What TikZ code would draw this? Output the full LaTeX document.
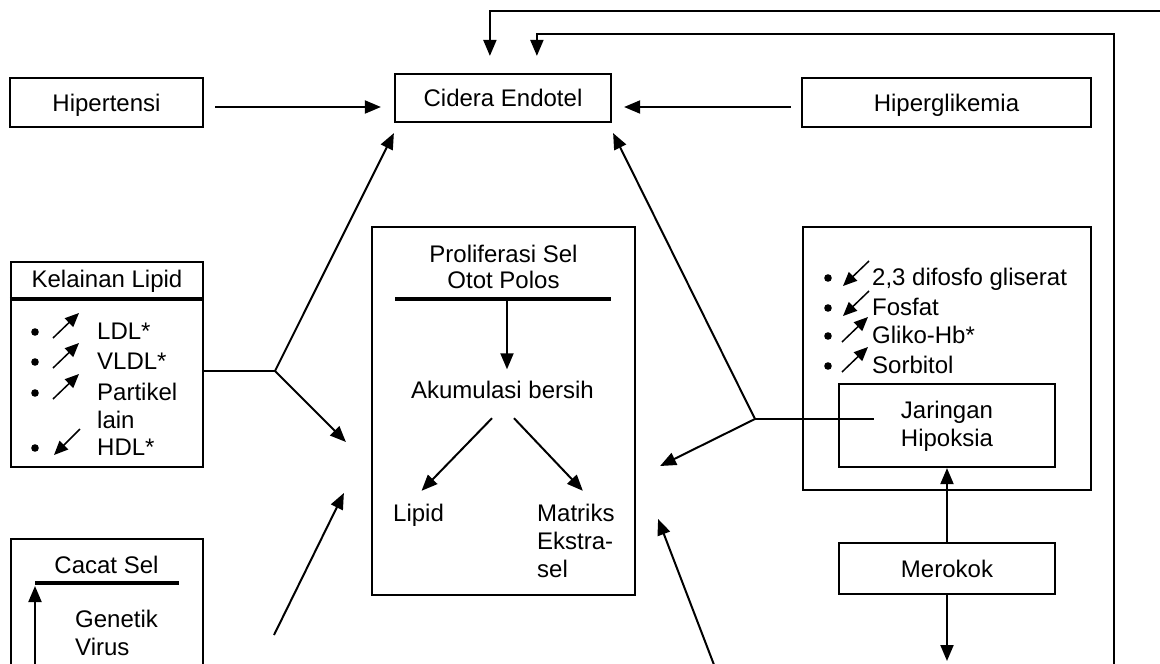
\documentclass[tikz,border=0pt]{standalone}
\usepackage{fontspec}
\setmainfont{Liberation Sans}
\usetikzlibrary{arrows.meta,calc}
\newcommand\fsz{\fontsize{24}{29}\selectfont}
\tikzset{
 box/.style={draw, line width=2.2pt, inner sep=0pt, align=center, font=\fsz, text height=17pt, text depth=0pt},
 txt/.style={inner sep=0pt, font=\fsz, text height=17pt, text depth=0pt},
 ln/.style={line width=2pt},
 arr/.style={line width=2pt, -{Triangle[length=16pt,width=13pt]}},
 hdr/.style={line width=4pt},
 sarr/.style={line width=1.5pt, -{Triangle[length=14pt,width=12pt]}},
}
\begin{document}
\begin{tikzpicture}[x=1pt,y=-1pt]
\useasboundingbox (0,0) rectangle (1160,664);
\clip (0,0) rectangle (1160,664);

% boxes
\node[box, minimum width=193pt, minimum height=49pt] (hip) at (106.5,102.5) {Hipertensi};
\node[box, minimum width=216pt, minimum height=48pt] (cid) at (503,98) {Cidera Endotel};
\node[box, minimum width=289pt, minimum height=49pt] (hgl) at (946.5,102.5) {Hiperglikemia};
\node[box, minimum width=192pt, minimum height=205pt] (lip) at (107,364.5) {};
\node[box, minimum width=263pt, minimum height=368pt] (pro) at (503.5,411) {};
\node[box, minimum width=288pt, minimum height=263pt] (rb) at (947,358.5) {};
\node[box, minimum width=216pt, minimum height=83pt] (jar) at (947,425.5) {};
\node[box, minimum width=216pt, minimum height=51pt] (mer) at (947,568.5) {Merokok};
\node[box, minimum width=192pt, minimum height=140pt] (cac) at (107,609) {};

% header rules
\draw[hdr] ($(lip.north west)+(0,38)$) -- ($(lip.north east)+(0,38)$);
\draw[hdr] (395,298.5) -- (611,298.5);
\draw[hdr] (35,583) -- (179,583);

% Kelainan Lipid
\node[txt] (liph) at (107,279) {Kelainan Lipid};
\node[txt,anchor=west] (li1) at (97,331) {LDL*};
\node[txt,anchor=west] (li2) at (97,361) {VLDL*};
\node[txt,anchor=west] (li3) at (97,392) {Partikel};
\node[txt,anchor=west] (li4) at (97,420) {lain};
\node[txt,anchor=west] (li5) at (97,447) {HDL*};
\foreach \c in {331,361,392,447} \fill ({35},{\c+1}) circle (3.8pt);
\foreach \c in {331,361,392} \draw[sarr] (53,{\c+7}) -- (79,{\c-18});
\draw[sarr] (80,429) -- (54,455);

% Proliferasi
\node[txt] (pro1) at (503.5,254) {Proliferasi Sel};
\node[txt] (pro2) at (503.5,280) {Otot Polos};
\coordinate (ph) at (507,298.5);
\node[txt] (akum) at (502.5,390) {Akumulasi bersih};
\node[txt,anchor=west] (lipd) at (393,512.5) {Lipid};
\node[txt,anchor=west] (mat1) at (537,512.5) {Matriks};
\node[txt,anchor=west] (mat2) at (537,541) {Ekstra-};
\node[txt,anchor=west] (mat3) at (537,569) {sel};
\draw[arr] (ph) -- ($(akum.north)+(4.5,-12)$);
\draw[arr] ($(akum.south)+(-10.5,19.5)$) -- ($(lipd.north)+(3,-13)$);
\draw[arr] ($(akum.south)+(11.5,19.5)$) -- ($(mat1.north)+(7,-13)$);

% right box
\node[txt,anchor=west] (r1) at (872,277) {2,3 difosfo gliserat};
\node[txt,anchor=west] (r2) at (872,307) {Fosfat};
\node[txt,anchor=west] (r3) at (872,335) {Gliko-Hb*};
\node[txt,anchor=west] (r4) at (872,365) {Sorbitol};
\foreach \c in {277,307,335,365} \fill ({828},{\c+1}) circle (3.8pt);
\foreach \c in {277,307} \draw[sarr] (869,{\c-16}) -- (843,{\c+9});
\foreach \c in {335,365} \draw[sarr] (842,{\c+7}) -- (868,{\c-18});
\node[txt] (jar1) at (947,410) {Jaringan};
\node[txt] (jar2) at (947,437.5) {Hipoksia};

% Cacat Sel
\node[txt] (cach) at (106.5,564.5) {Cacat Sel};
\node[txt,anchor=west] (gen) at (75,618.5) {Genetik};
\node[txt,anchor=west] (vir) at (75,646.5) {Virus};
\coordinate (c0) at (35,670);
\draw[arr] (c0) -- (35,586);

% connectors
\draw[arr] ($(hip.east)+(11,4.5)$) -- ($(cid.west)+(-13,9)$);
\draw[arr] ($(hgl.west)+(-10,4.5)$) -- ($(cid.east)+(12,9)$);
\coordinate (e1) at (1162,11);
\draw[arr] (e1) -| ($(cid.north west)+(96,-17)$);
\coordinate (e2) at (1114,670);
\draw[arr] (e2) -- (1114,34) -| ($(cid.north west)+(143,-17)$);

\coordinate (bl) at (275,371);
\draw[ln] ($(lip.east)+(0,6.5)$) -- (bl);
\draw[arr] (bl) -- ($(cid.south west)+(0,10)$);
\draw[arr] (bl) -- ($(pro.west)+(-25,31)$);

\coordinate (cb) at (274,635);
\draw[arr] (cb) -- ($(pro.west)+(-27,82)$);

\coordinate (br) at (755,419);
\draw[ln] ($(jar.west)+(36,-6.5)$) -- (br);
\draw[arr] (br) -- ($(cid.south east)+(1,10)$);
\draw[arr] (br) -- ($(pro.east)+(24,55)$);

\draw[arr] (mer.north) -- (jar.south);
\coordinate (md) at (947,661);
\draw[arr] (mer.south) -- (md);

\coordinate (b2) at (716,670);
\draw[arr] (b2) -- ($(pro.east)+(22,108)$);
\end{tikzpicture}
\end{document}
